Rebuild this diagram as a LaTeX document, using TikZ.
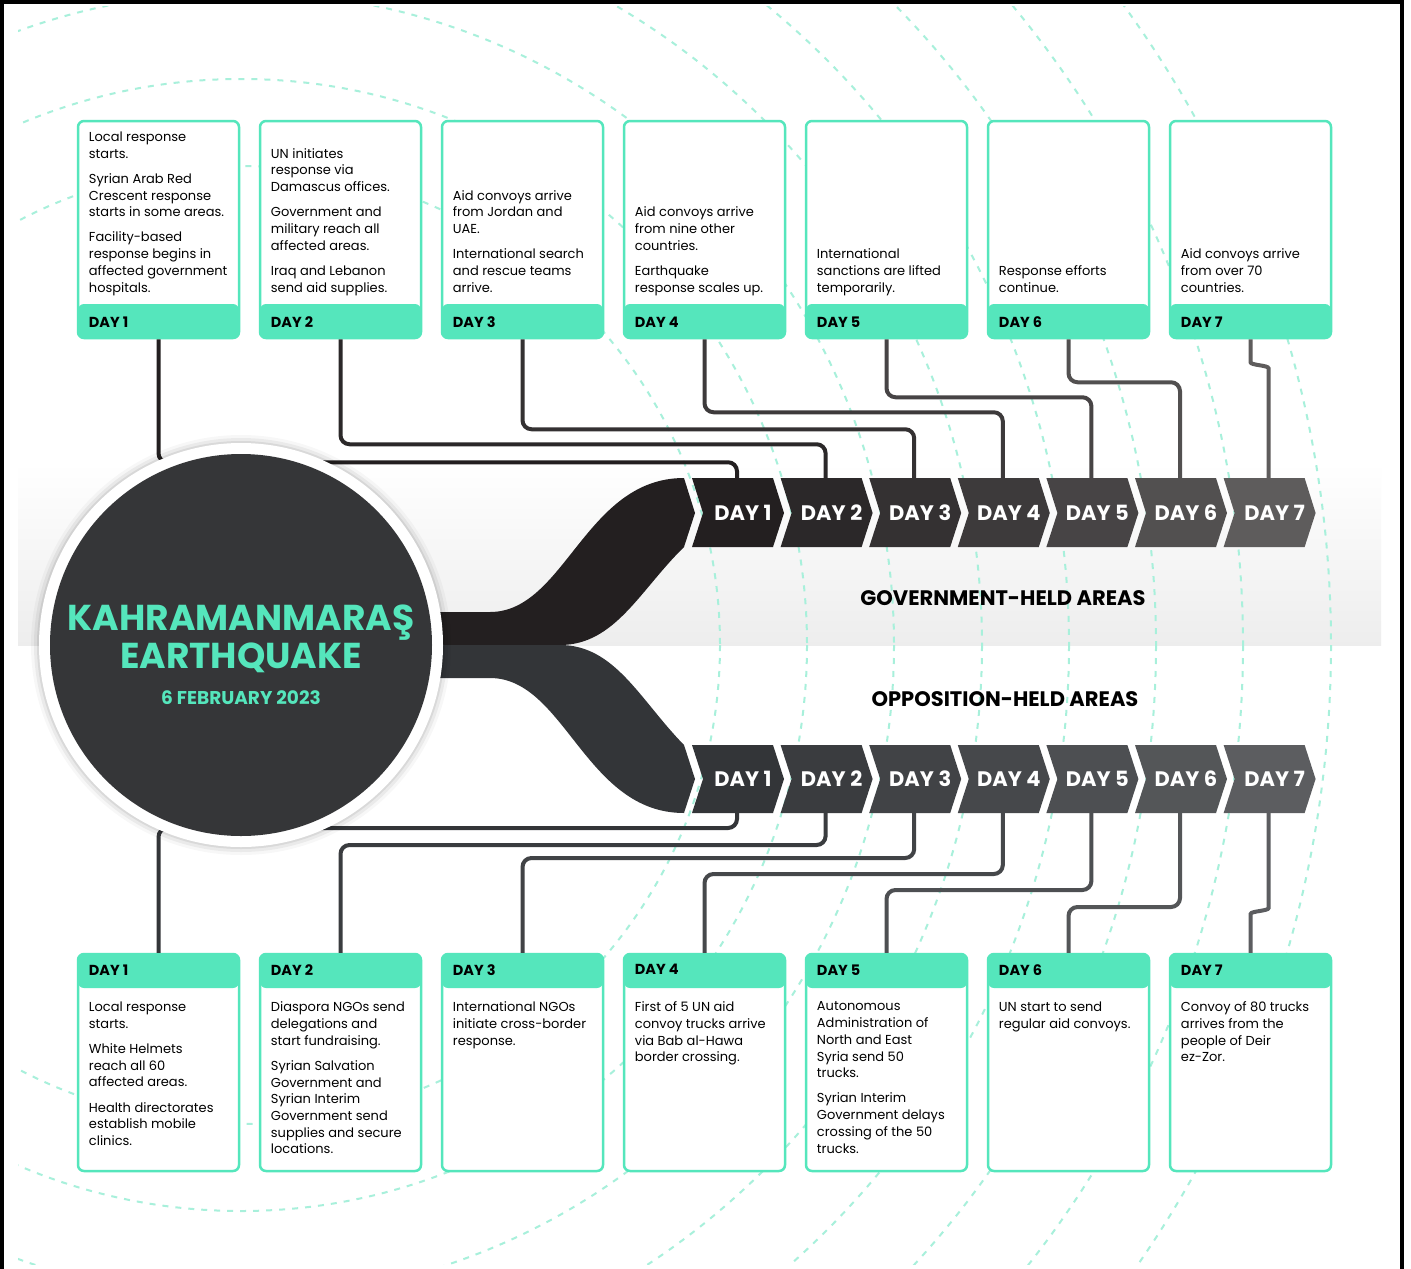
\documentclass[tikz,border=0pt]{standalone}
\usepackage{fontspec}
\setmainfont{Poppins}
\usetikzlibrary{positioning}

\definecolor{mint}{HTML}{55E6BC}
\definecolor{arcmint}{HTML}{A8F0DB}
\definecolor{disc}{HTML}{353638}
\definecolor{g1}{HTML}{231F20}
\definecolor{g2}{HTML}{2B2829}
\definecolor{g3}{HTML}{343132}
\definecolor{g4}{HTML}{3D3A3B}
\definecolor{g5}{HTML}{474445}
\definecolor{g6}{HTML}{525050}
\definecolor{g7}{HTML}{5E5C5C}
\definecolor{o1}{HTML}{333538}
\definecolor{o2}{HTML}{3A3C3F}
\definecolor{o3}{HTML}{414346}
\definecolor{o4}{HTML}{46484B}
\definecolor{o5}{HTML}{4D4F52}
\definecolor{o6}{HTML}{545658}
\definecolor{o7}{HTML}{5C5D60}

\newcommand{\gap}{\\[8.5pt]}

\tikzset{
  govbox/.style={draw=mint, line width=2.5pt, rounded corners=6pt, fill=white,
    minimum width=161pt, minimum height=217pt, inner sep=0pt,
    path picture={\fill[mint] (path picture bounding box.south west)
      rectangle ([yshift=34pt]path picture bounding box.south east);}},
  oppbox/.style={draw=mint, line width=2.5pt, rounded corners=6pt, fill=white,
    minimum width=161pt, minimum height=217pt, inner sep=0pt,
    path picture={\fill[mint] (path picture bounding box.north west)
      rectangle ([yshift=-34pt]path picture bounding box.north east);}},
  note/.style={font=\fontsize{13}{16.7}\selectfont, align=left, inner sep=0pt,
    execute at begin node=\strut, execute at end node=\strut},
  daytag/.style={font=\fontsize{14.5}{16}\selectfont\bfseries, inner sep=0pt},
  daylbl/.style={font=\fontsize{21}{22}\selectfont\bfseries, text=white, inner sep=0pt},
  area/.style={font=\fontsize{21}{24}\selectfont\bfseries, inner sep=0pt},
  link/.style={line width=4pt, rounded corners=9pt},
  dasharc/.style={arcmint, line width=2pt, dash pattern=on 6pt off 7pt},
}

\begin{document}
\begin{tikzpicture}[x=1pt, y=-1pt]
\useasboundingbox (0,0) rectangle (1411,1269);
\fill[white] (0,0) rectangle (1411,1269);

% grey band behind the government row
\shade[top color=white, bottom color=black!7] (18,462) rectangle (1381,645);

% dashed rings round the quake
\begin{scope}
\clip (18,6) rectangle (1381,1264);
\foreach \r in {479,566,653,741,828,915,1002,1090}
  \draw[dasharc] (241,645) circle (\r);
\end{scope}

% the two flows
\fill[g1] (400,612) -- (490,612) .. controls (565,612) and (585,478) .. (684,478)
  -- (695,513) -- (684,547) .. controls (640,590) and (615,645) .. (560,645) -- (400,645) -- cycle;
\fill[o1] (400,678) -- (490,678) .. controls (565,678) and (585,813) .. (684,813)
  -- (695,779) -- (684,745) .. controls (640,700) and (615,645) .. (560,645) -- (400,645) -- cycle;

% day chevrons
\foreach \i in {1,...,7} {
  \pgfmathsetmacro\lx{692+88.6*(\i-1)}
  \fill[g\i] (\lx,478) -- ++(81,0) -- ++(11,35) -- ++(-11,34) -- ++(-81,0) -- ++(11,-34) -- cycle;
  \fill[o\i] (\lx,745) -- ++(81,0) -- ++(11,34) -- ++(-11,34) -- ++(-81,0) -- ++(11,-34) -- cycle;
  \node[daylbl] (gday\i) at (\lx+51,513) {DAY \i};
  \node[daylbl] (oday\i) at (\lx+51,779) {DAY \i};
  \coordinate (gin\i) at (\lx+45,478);
  \coordinate (oout\i) at (\lx+45,813);
}

\node[area] (govlbl) at (1003,598) {GOVERNMENT-HELD AREAS};
\node[area] (opplbl) at (1005,699) {OPPOSITION-HELD AREAS};

% boxes
\foreach \i in {1,...,7} {
  \pgfmathsetmacro\bx{158.5+182*(\i-1)}
  \node[govbox] (gbox\i) at (\bx,229.5) {};
  \node[oppbox] (obox\i) at (\bx,1062.5) {};
  \node[daytag, anchor=west] (gtag\i) at ([xshift=12pt,yshift=17pt]gbox\i.south west) {DAY \i};
  \node[daytag, anchor=west] (otag\i) at ([xshift=12pt,yshift=-17pt]obox\i.north west) {DAY \i};
}

\node[note, anchor=south west] (gtext1) at ([xshift=12pt,yshift=42pt]gbox1.south west)
  {Local response\\starts.\gap Syrian Arab Red\\Crescent response\\starts in some areas.\gap
   Facility-based\\response begins in\\affected government\\hospitals.};
\node[note, anchor=south west] (gtext2) at ([xshift=12pt,yshift=42pt]gbox2.south west)
  {UN initiates\\response via\\Damascus offices.\gap Government and\\military reach all\\affected areas.\gap
   Iraq and Lebanon\\send aid supplies.};
\node[note, anchor=south west] (gtext3) at ([xshift=12pt,yshift=42pt]gbox3.south west)
  {Aid convoys arrive\\from Jordan and\\UAE.\gap International search\\and rescue teams\\arrive.};
\node[note, anchor=south west] (gtext4) at ([xshift=12pt,yshift=42pt]gbox4.south west)
  {Aid convoys arrive\\from nine other\\countries.\gap Earthquake\\response scales up.};
\node[note, anchor=south west] (gtext5) at ([xshift=12pt,yshift=42pt]gbox5.south west)
  {International\\sanctions are lifted\\temporarily.};
\node[note, anchor=south west] (gtext6) at ([xshift=12pt,yshift=42pt]gbox6.south west)
  {Response efforts\\continue.};
\node[note, anchor=south west] (gtext7) at ([xshift=12pt,yshift=42pt]gbox7.south west)
  {Aid convoys arrive\\from over 70\\countries.};

\node[note, anchor=north west] (otext1) at ([xshift=12pt,yshift=-49pt]obox1.north west)
  {Local response\\starts.\gap White Helmets\\reach all 60\\affected areas.\gap
   Health directorates\\establish mobile\\clinics.};
\node[note, anchor=north west] (otext2) at ([xshift=12pt,yshift=-49pt]obox2.north west)
  {Diaspora NGOs send\\delegations and\\start fundraising.\gap Syrian Salvation\\Government and\\Syrian Interim\\
   Government send\\supplies and secure\\locations.};
\node[note, anchor=north west] (otext3) at ([xshift=12pt,yshift=-49pt]obox3.north west)
  {International NGOs\\initiate cross-border\\response.};
\node[note, anchor=north west] (otext4) at ([xshift=12pt,yshift=-49pt]obox4.north west)
  {First of 5 UN aid\\convoy trucks arrive\\via Bab al-Hawa\\border crossing.};
\node[note, anchor=north west] (otext5) at ([xshift=12pt,yshift=-49pt]obox5.north west)
  {Autonomous\\Administration of\\North and East\\Syria send 50\\trucks.\gap Syrian Interim\\
   Government delays\\crossing of the 50\\trucks.};
\node[note, anchor=north west] (otext6) at ([xshift=12pt,yshift=-49pt]obox6.north west)
  {UN start to send\\regular aid convoys.};
\node[note, anchor=north west] (otext7) at ([xshift=12pt,yshift=-49pt]obox7.north west)
  {Convoy of 80 trucks\\arrives from the\\people of Deir\\ez-Zor.};

% connectors
\foreach \i/\drop in {1/123,2/105,3/90,4/73,5/58,6/43}
  \draw[link, g\i] (gbox\i.south) -- ++(0,\drop) -| (gin\i);
\draw[link, g7] (gbox7.south) -- ++(0,14) .. controls +(0,12) and +(0,-12) .. ++(18,24) -- (gin7);
\foreach \i/\drop in {1/15,2/32,3/45,4/61,5/77,6/94}
  \draw[link, o\i] (oout\i) -- ++(0,\drop) -| (obox\i.north);
\draw[link, o7] (oout7) -- ++(0,86) .. controls +(0,12) and +(0,-12) .. ++(-18,24) -- (obox7.north);

% the quake disc
\foreach \r/\o in {210/0.03,207/0.05,204/0.07}
  \fill[black, opacity=\o] (241,645) circle (\r);
\node[circle, fill=white, minimum size=404pt, inner sep=0pt] (ring) at (241,645) {};
\node[circle, fill=disc, minimum size=382pt, inner sep=0pt] (quake) at (241,645) {};
\node[font=\fontsize{36}{38}\selectfont\bfseries, text=mint, align=center, inner sep=0pt]
  (title) at (241,639) {KAHRAMANMARAŞ\\EARTHQUAKE};
\node[font=\fontsize{18.5}{20}\selectfont\bfseries, text=mint, inner sep=0pt]
  (date) at (241,698) {6 FEBRUARY 2023};

% frame
\draw[line width=4pt] (2,1269) -- (2,2) -- (1402,2) -- (1402,1269);
\end{tikzpicture}
\end{document}
